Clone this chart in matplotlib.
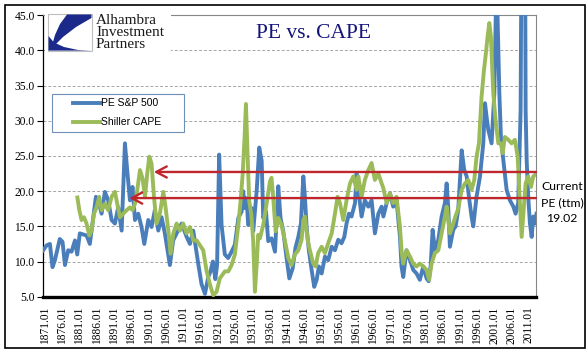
"""PE vs. CAPE chart, S&P 500 trailing PE against Shiller CAPE."""
import matplotlib
matplotlib.use("Agg")
import matplotlib.pyplot as plt
from matplotlib.patches import Rectangle, Polygon
from matplotlib.lines import Line2D

# --- data (year, value) ---
pe_years = [
    1870.5, 1871.5, 1872.45, 1873.2, 1873.9, 1875.3, 1876.1, 1876.8, 1877.75, 1878.7,
    1879.7, 1880.35, 1881.1, 1883.05, 1884.0, 1885.0, 1885.75, 1886.7, 1887.4, 1888.35,
    1889.3, 1890.3, 1891.25, 1892.2, 1893.2, 1894.15, 1894.8, 1895.6, 1896.35, 1897.05,
    1898.0, 1898.95, 1899.75, 1900.9, 1901.85, 1902.8, 1903.8, 1904.75, 1905.7, 1907.15,
    1908.1, 1909.1, 1910.55, 1912.0, 1912.95, 1913.9, 1915.35, 1916.3, 1917.3, 1918.25,
    1918.9, 1919.6, 1920.3, 1920.8, 1921.4, 1922.1, 1923.05, 1924.0, 1925.0, 1925.95,
    1926.95, 1927.9, 1928.35, 1928.85, 1929.35, 1929.8, 1930.8, 1931.25, 1932.25, 1933.0,
    1933.7, 1934.15, 1934.95, 1935.6, 1936.55, 1937.55, 1938.5, 1939.15, 1939.95, 1940.9,
    1941.7, 1942.65, 1943.5, 1944.3, 1945.05, 1945.75, 1946.2, 1946.7, 1947.35, 1948.15,
    1948.9, 1949.6, 1950.25, 1951.05, 1952.0, 1952.95, 1953.95, 1954.9, 1955.85, 1956.8,
    1957.6, 1958.25, 1958.95, 1959.7, 1960.7, 1961.15, 1961.65, 1962.6, 1963.55, 1964.55,
    1965.5, 1966.45, 1967.45, 1968.4, 1968.9, 1969.85, 1970.8, 1971.75, 1972.7, 1973.7,
    1974.15, 1974.65, 1975.6, 1976.6, 1977.55, 1978.5, 1979.45, 1980.45, 1981.4, 1982.0,
    1982.6, 1983.15, 1983.8, 1984.8, 1985.75, 1986.7, 1987.2, 1987.65, 1988.15, 1989.1,
    1989.8, 1990.55, 1991.55, 1992.3, 1993.0, 1993.65, 1994.4, 1994.9, 1995.85, 1996.85,
    1997.8, 1998.3, 1998.75, 1999.25, 2000.2, 2001.0, 2001.45, 2001.85, 2002.45, 2002.9,
    2003.6, 2004.55, 2005.5, 2006.5, 2007.15, 2007.9, 2008.6, 2008.9, 2009.35, 2009.65,
    2010.05, 2010.35, 2010.8, 2011.3, 2011.8, 2012.25, 2012.75, 2013.2,
]
pe_values = [
    11.6, 12.3, 12.5, 9.2, 10.2, 13.2, 12.8, 9.5, 11.6, 11.4,
    13.0, 11.0, 14.0, 13.7, 12.5, 16.3, 19.2, 18.2, 16.8, 19.9,
    18.7, 15.9, 15.4, 17.7, 14.4, 26.8, 23.0, 18.7, 20.6, 15.9,
    16.8, 14.9, 12.5, 15.9, 14.9, 17.3, 14.4, 16.3, 14.0, 9.5,
    13.0, 14.0, 15.4, 13.5, 12.5, 14.4, 9.7, 6.8, 5.4, 7.8,
    8.6, 10.0, 7.5, 9.5, 25.2, 15.2, 11.0, 10.5, 11.4, 12.4,
    16.2, 17.1, 20.0, 17.6, 19.0, 15.2, 17.6, 14.3, 20.0, 26.2,
    24.3, 16.2, 17.1, 12.9, 13.3, 11.4, 20.7, 16.2, 14.3, 10.5,
    7.6, 9.0, 12.0, 13.5, 15.4, 22.1, 19.2, 14.9, 11.6, 8.8,
    6.4, 7.4, 9.3, 8.3, 10.7, 10.2, 12.1, 11.6, 13.1, 12.6,
    13.5, 15.4, 16.8, 16.4, 18.3, 22.5, 20.2, 16.4, 18.7, 17.8,
    18.7, 14.0, 16.8, 17.8, 16.4, 18.3, 19.7, 17.8, 18.7, 13.5,
    9.3, 7.8, 11.6, 10.2, 8.8, 8.3, 7.4, 9.3, 7.6, 7.2,
    9.5, 14.5, 11.6, 13.1, 16.4, 18.3, 21.1, 17.8, 12.1, 14.5,
    15.0, 17.3, 25.8, 23.0, 22.1, 19.2, 16.4, 15.0, 19.2, 22.1,
    26.8, 32.5, 30.6, 28.7, 26.8, 33.9, 46.0, 46.5, 33.9, 27.7,
    24.4, 20.2, 18.7, 17.8, 16.8, 18.3, 31.5, 60.0, 120.0, 90.0,
    31.5, 24.4, 19.2, 15.4, 13.5, 16.4, 15.4, 16.8,
]

cape_years = [
    1880.4, 1880.95, 1881.6, 1882.3, 1883.05, 1883.85, 1884.5, 1885.2, 1885.95, 1886.7,
    1887.4, 1888.35, 1889.3, 1890.3, 1891.25, 1891.95, 1892.7, 1893.65, 1894.65, 1895.6,
    1896.35, 1897.05, 1897.7, 1898.5, 1899.25, 1899.95, 1900.6, 1901.2, 1901.85, 1902.55,
    1903.3, 1904.25, 1905.25, 1905.9, 1906.7, 1907.35, 1908.15, 1909.1, 1910.05, 1911.0,
    1912.0, 1912.95, 1913.9, 1914.9, 1915.85, 1916.8, 1917.75, 1918.75, 1919.7, 1920.65,
    1921.6, 1923.05, 1924.05, 1925.0, 1925.95, 1926.95, 1927.6, 1928.2, 1928.75, 1929.15,
    1929.65, 1930.1, 1930.7, 1931.25, 1931.75, 1932.25, 1932.7, 1933.2, 1934.15, 1935.1,
    1936.1, 1936.55, 1937.05, 1937.75, 1938.5, 1939.45, 1940.45, 1941.4, 1942.35, 1943.3,
    1944.3, 1945.25, 1945.75, 1946.2, 1947.0, 1947.65, 1948.6, 1949.3, 1950.05, 1951.05,
    1952.0, 1952.95, 1953.95, 1954.9, 1955.65, 1956.35, 1957.3, 1958.25, 1959.25, 1960.2,
    1961.15, 1961.65, 1962.6, 1963.55, 1964.55, 1965.5, 1966.45, 1967.45, 1968.4, 1968.85,
    1969.85, 1970.8, 1971.75, 1972.7, 1973.7, 1974.15, 1974.65, 1975.6, 1976.6, 1977.55,
    1978.5, 1979.45, 1980.45, 1981.4, 1982.15, 1982.85, 1983.8, 1984.8, 1985.75, 1986.7,
    1987.2, 1987.65, 1988.15, 1989.1, 1989.8, 1990.55, 1991.55, 1992.5, 1993.45, 1994.4,
    1995.2, 1995.85, 1996.55, 1997.3, 1998.0, 1998.55, 1999.05, 1999.55, 2000.0, 2000.7,
    2001.35, 2002.15, 2002.9, 2003.4, 2004.05, 2005.05, 2006.0, 2006.95, 2007.75, 2008.2,
    2008.9, 2009.35, 2010.05, 2010.8, 2011.6, 2012.25, 2013.2,
]
cape_values = [
    19.1, 17.3, 15.9, 16.3, 15.4, 13.7, 14.4, 16.8, 17.7, 19.2,
    17.3, 18.2, 17.3, 19.2, 19.9, 18.2, 16.3, 16.8, 17.3, 17.7,
    17.3, 18.2, 20.1, 23.0, 21.8, 19.2, 22.5, 24.9, 23.9, 19.2,
    15.4, 16.8, 19.9, 17.7, 14.4, 11.1, 14.0, 15.4, 14.4, 15.4,
    14.0, 14.9, 13.0, 13.0, 12.3, 11.6, 8.7, 6.7, 5.2, 5.7,
    7.6, 8.6, 8.6, 9.5, 11.0, 15.2, 18.6, 22.4, 27.6, 32.4,
    24.8, 18.6, 16.7, 12.9, 5.7, 9.5, 13.8, 13.3, 15.2, 18.1,
    21.4, 21.9, 19.0, 14.3, 16.2, 15.2, 12.9, 10.5, 9.5, 11.0,
    11.6, 13.1, 15.9, 16.4, 13.1, 11.6, 9.7, 9.3, 11.2, 12.1,
    11.2, 12.6, 14.0, 16.8, 19.2, 18.3, 15.9, 18.7, 21.1, 22.1,
    20.2, 22.1, 19.2, 21.6, 23.0, 24.0, 21.6, 22.5, 21.1, 20.5,
    18.3, 19.7, 18.3, 19.2, 14.9, 11.6, 9.7, 11.6, 10.7, 9.7,
    9.3, 9.7, 9.3, 8.8, 7.4, 9.7, 11.2, 11.6, 14.0, 16.4,
    17.8, 15.9, 14.0, 15.4, 16.5, 17.5, 20.2, 21.1, 21.6, 20.2,
    21.6, 24.9, 26.8, 33.4, 37.2, 39.6, 42.0, 43.9, 42.0, 33.9,
    30.1, 26.8, 26.8, 25.4, 27.7, 27.3, 26.8, 27.3, 24.9, 20.2,
    13.5, 16.4, 21.1, 22.1, 20.6, 22.1, 22.5,
]

tick_years = list(range(1871, 2012, 5))
tick_labels = ["%d.01" % y for y in tick_years]

current_cape = 22.73
current_pe = 19.02
cape_arrow_tip = 1902.5
pe_arrow_tip = 1895.4

BLUE = "#4A7EBB"
GREEN = "#9BBB59"
RED = "#C0272D"
NAVY = "#14147A"
SERIF = "Liberation Serif"

fig = plt.figure(figsize=(5.88, 3.61), dpi=100)
ax = fig.add_axes([43 / 588, 1 - 296.7 / 361, 493 / 588, 281.4 / 361])

ax.plot(pe_years, pe_values, color=BLUE, lw=2.8, solid_joinstyle="round",
        label="PE S&P 500", zorder=3)
ax.plot(cape_years, cape_values, color=GREEN, lw=2.8, solid_joinstyle="round",
        label="Shiller CAPE", zorder=4)

# arrows marking the current levels
for level, tip in [(current_cape, cape_arrow_tip), (current_pe, pe_arrow_tip)]:
    ax.annotate("", xy=(tip, level), xytext=(2013.05, level),
                arrowprops=dict(arrowstyle="->,head_length=0.75,head_width=0.4",
                                color=RED, lw=1.7, shrinkA=0, shrinkB=0,
                                mutation_scale=10),
                zorder=6)

ax.set_xlim(1870.45, 2013.05)
ax.set_ylim(5, 45)
ax.set_yticks(range(5, 46, 5))
ax.set_yticklabels(["%.1f" % v for v in range(5, 46, 5)], family=SERIF, fontsize=8.3)
ax.set_xticks(tick_years)
ax.set_xticklabels(tick_labels, rotation=90, family=SERIF, fontsize=8.3)
ax.tick_params(axis="y", direction="out", length=4, width=0.8, pad=2)
ax.tick_params(axis="x", length=0, pad=7)

ax.yaxis.grid(True, color="#A6A6A6", linestyle=(0, (3, 2)), lw=0.7)
ax.set_axisbelow(True)

for side in ("top", "right"):
    ax.spines[side].set_color("#868686")
    ax.spines[side].set_linewidth(0.8)
ax.spines["left"].set_color("black")
ax.spines["left"].set_linewidth(0.9)
ax.spines["bottom"].set_color("black")
ax.spines["bottom"].set_linewidth(2.4)

# overlay in pixel coordinates for logo, title, legend and notes
ov = fig.add_axes([0, 0, 1, 1], zorder=5)
ov.set_xlim(0, 588)
ov.set_ylim(361, 0)
ov.axis("off")
ov.patch.set_visible(False)

ov.add_patch(Rectangle((4.5, 4.5), 580.5, 343.5, fill=False, ec="black", lw=1.2))

# logo
ov.add_patch(Rectangle((44.5, 8), 126, 45, fc="white", ec="none"))
ov.add_patch(Rectangle((48, 14), 44, 37, fc="white", ec="#BFBFBF", lw=0.8))
ov.add_patch(Polygon([(67, 14.5), (91.5, 14.5), (91.5, 18), (76, 27), (63, 37),
                      (51, 49), (55, 35), (60, 24)], closed=True,
                     fc="#1B2A8A", ec="none"))
ov.add_patch(Polygon([(48.5, 36), (54, 42.5), (64, 47), (78, 50), (91.5, 50.6),
                      (48.5, 50.6)], closed=True, fc="#1B2A8A", ec="none"))
for i, word in enumerate(["Alhambra", "Investment", "Partners"]):
    ov.text(96, 21 + 12 * i, word, family=SERIF, fontsize=11, color="#1A1A1A",
            ha="left", va="center")

ov.text(313, 33, "PE vs. CAPE", family=SERIF, fontsize=15.5, color=NAVY,
        ha="center", va="center")

# legend box
ov.add_patch(Rectangle((52, 94), 132, 38, fc="white", ec="#6F8FB8", lw=0.8))
for i, (col, name) in enumerate([(BLUE, "PE S&P 500"), (GREEN, "Shiller CAPE")]):
    y = 103 + 19 * i
    ov.add_line(Line2D([73, 100], [y, y], color=col, lw=2.8))
    ov.text(101, y, name, family="Liberation Sans", fontsize=7.5, ha="left",
            va="center")

for i, line in enumerate(["Current", "PE (ttm)", "%.2f" % current_pe]):
    ov.text(562, 187 + 15.5 * i, line, family="Lato", fontsize=8.8,
            ha="center", va="center")

fig.savefig("out.png", dpi=100)
